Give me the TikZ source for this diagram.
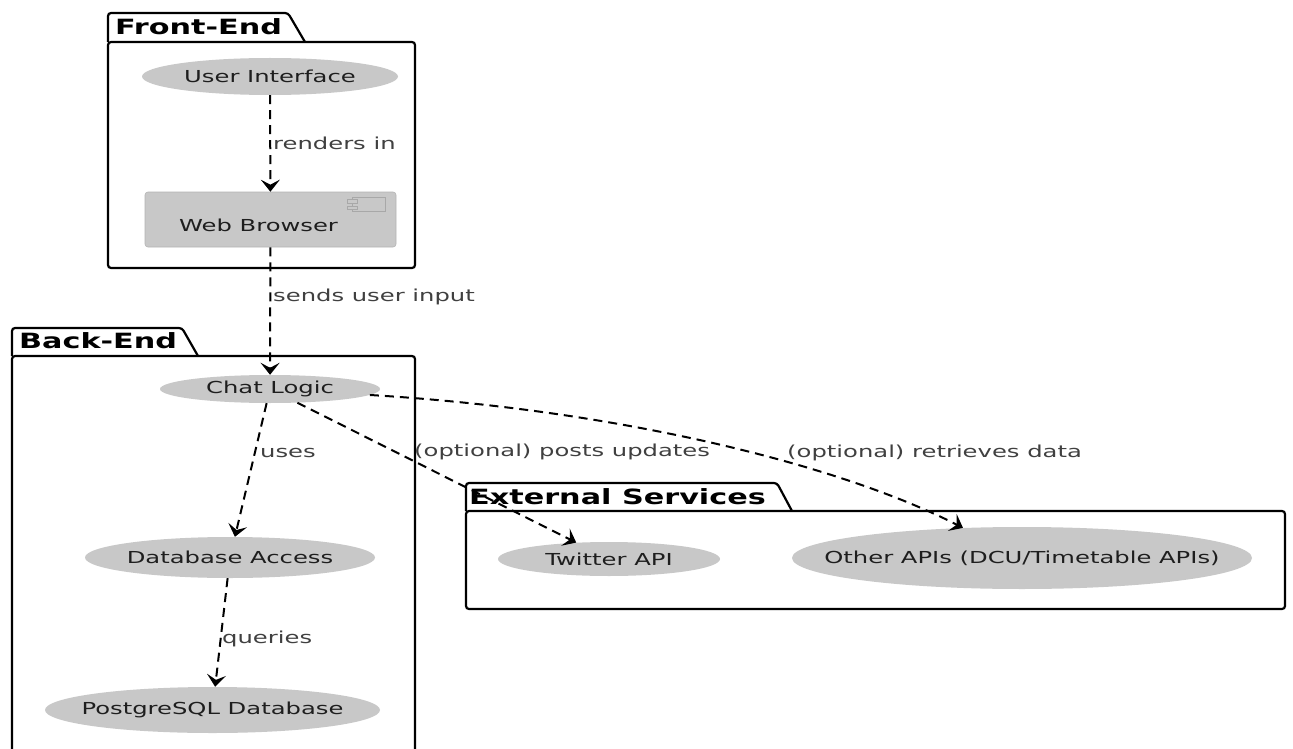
\documentclass[tikz,border=0pt]{standalone}
\usepackage{fontspec}
\setmainfont{DejaVu Sans}
\newfontfamily\nodefont[FakeStretch=1.47]{DejaVu Sans}
\newfontfamily\pkgfont[FakeStretch=1.44]{DejaVu Sans}
\usetikzlibrary{shapes.geometric,arrows.meta}
\definecolor{nodefill}{HTML}{C8C8C8}
\definecolor{nodetxt}{HTML}{1E1E1E}
\definecolor{lbltxt}{HTML}{404040}
\definecolor{iconline}{HTML}{A8A8A8}
\newcommand{\zw}[1]{\makebox[0pt]{#1}}
\tikzset{
  pkgline/.style={draw=black, line width=2.2pt, rounded corners=3pt},
  pkgtitle/.style={font=\pkgfont\bfseries\fontsize{21}{24}\selectfont, text=black, anchor=west, inner sep=0pt},
  usecase/.style={ellipse, fill=nodefill, draw=none, inner sep=0pt, text=nodetxt,
    font=\nodefont\fontsize{16.5}{19}\selectfont},
  compbox/.style={rectangle, rounded corners=3pt, fill=nodefill, draw=nodefill!90!black, line width=0.6pt, inner sep=0pt},
  comptext/.style={inner sep=0pt, text=nodetxt, font=\nodefont\fontsize{16.5}{19}\selectfont},
  conn/.style={draw=black, line width=2pt, dash pattern=on 9pt off 6pt,
    -{Stealth[length=12pt,width=19pt,inset=5pt]}},
  elabel/.style={font=\nodefont\fontsize{16.5}{19}\selectfont, text=lbltxt, anchor=west, inner sep=0pt},
  icon/.style={draw=iconline, line width=0.8pt, fill=nodefill}
}
\begin{document}
\begin{tikzpicture}[x=1pt,y=-1pt]
\useasboundingbox (0,0) rectangle (1293,749);
\fill[white] (0,0) rectangle (1293,749);

% Front-End package
\draw[pkgline] (108,42) -- (108,13) -- (288,13) -- (305,42);
\draw[pkgline] (108,42) rectangle (415,268);
\node[pkgtitle] (tfront) at (115,27) {Front-End};

% Back-End package
\draw[pkgline] (12,356) -- (12,328) -- (182,328) -- (198,356);
\draw[pkgline] (12,749) -- (12,356) -- (415,356) -- (415,749);
\node[pkgtitle] (tback) at (19,341) {Back-End};

% External Services package
\draw[pkgline] (466,511) -- (466,483) -- (777,483) -- (792,511);
\draw[pkgline] (466,511) rectangle (1285,609);
\node[pkgtitle] (text) at (469,497) {External Services};

% Nodes
\node[usecase, minimum width=256pt, minimum height=37pt] (ui) at (270,76.5) {\zw{User Interface}};
\node[compbox, minimum width=251pt, minimum height=55pt] (wb) at (270.5,219.5) {};
\node[comptext] (wbtxt) at ([xshift=-12pt,yshift=-6pt]wb.center) {Web Browser};
\draw[icon] ([xshift=-44pt,yshift=-6pt]wb.north east) rectangle ([xshift=-11pt,yshift=-20pt]wb.north east);
\draw[icon] ([xshift=-49pt,yshift=-8pt]wb.north east) rectangle ([xshift=-39pt,yshift=-11.5pt]wb.north east);
\draw[icon] ([xshift=-49pt,yshift=-14.5pt]wb.north east) rectangle ([xshift=-39pt,yshift=-18pt]wb.north east);

\node[usecase, minimum width=220pt, minimum height=28pt] (chat) at (270,389) {\zw{Chat Logic}};
\node[usecase, minimum width=290pt, minimum height=41pt] (db) at (230,557.5) {\zw{Database Access}};
\node[usecase, minimum width=335pt, minimum height=46pt] (pg) at (212.5,710) {\zw{PostgreSQL Database}};
\node[usecase, minimum width=222pt, minimum height=34pt] (tw) at (609,559) {\zw{Twitter API}};
\node[usecase, minimum width=460pt, minimum height=62pt] (oth) at (1022,558) {\zw{Other APIs (DCU/Timetable APIs)}};

% Connectors
\draw[conn] (ui) -- (wb);
\draw[conn] (wb) -- (chat);
\draw[conn] (chat) -- (db);
\draw[conn] (db) -- (pg);
\draw[conn] (chat) -- (tw);
\draw[conn] (chat) .. controls (620,410) and (840,465) .. (oth);

% Labels
\node[elabel] (l1) at (273,143) {renders in};
\node[elabel] (l2) at (273,297) {sends user input};
\node[elabel] (l3) at (260,453) {uses};
\node[elabel] (l4) at (222,639) {queries};
\node[elabel] (l5) at (414,452) {(optional) posts updates};
\node[elabel] (l6) at (787,453) {(optional) retrieves data};
\end{tikzpicture}
\end{document}
